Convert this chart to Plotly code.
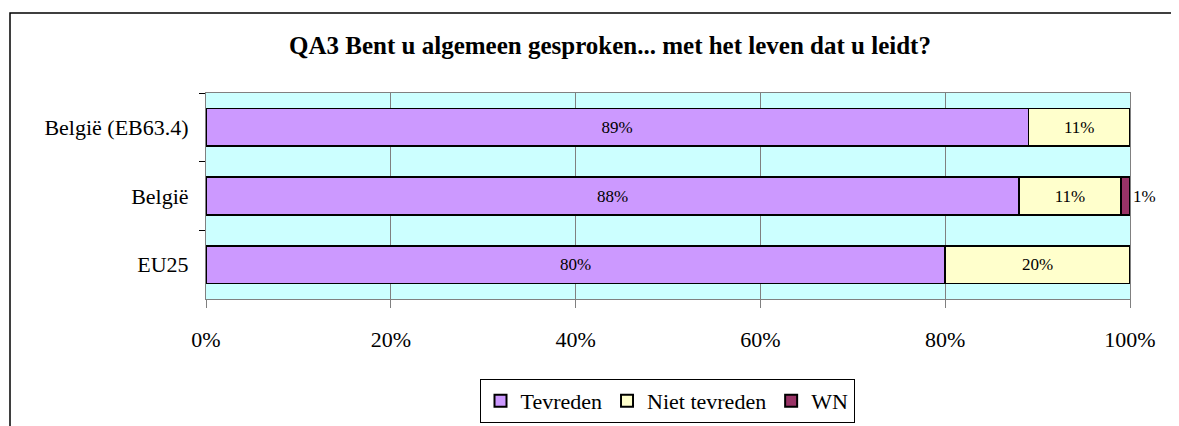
import plotly.graph_objects as go

categories = ["België (EB63.4)", "België", "EU25"]
tevreden = [89, 88, 80]
niet_tevreden = [11, 11, 20]
wn = [0, 1, 0]
series_names = ["Tevreden", "Niet tevreden", "WN"]
x_ticks = [0, 20, 40, 60, 80, 100]
x_tick_labels = ["0%", "20%", "40%", "60%", "80%", "100%"]
title_text = "QA3 Bent u algemeen gesproken... met het leven dat u leidt?"

colors = ["#CC99FF", "#FFFFCC", "#993366"]
font_family = "Liberation Serif, Times New Roman, serif"

# the page body has an 8px margin, so the figure sits at screen (8, 8)
OFF = 8
W, H = 1179 - OFF, 426 - OFF
L, R, T, B = 206 - OFF, 49, 93 - OFF, 127
pw, ph = W - L - R, H - T - B

def px2x(px):  # screen pixel -> paper x
    return (px - OFF - L) / pw

def py2y(py):  # screen pixel -> paper y
    return (H - B - (py - OFF)) / ph

fig = go.Figure()
for name, vals, col, pos in zip(series_names, [tevreden, niet_tevreden, wn], colors,
                                ["inside", "inside", "outside"]):
    fig.add_trace(go.Bar(
        y=categories, x=vals, name=name, orientation="h",
        marker=dict(color=col, line=dict(color="black", width=1.5)),
        text=[f"{v}%" if v > 0 else "" for v in vals],
        textposition=pos, insidetextanchor="middle",
        textfont=dict(family=font_family, size=17, color="black"),
        cliponaxis=False, constraintext="none",
        hoverinfo="skip",
    ))

fig.update_layout(
    width=W, height=H,
    barmode="stack", bargap=0.45,
    margin=dict(l=L, r=R, t=T, b=B, autoexpand=False),
    paper_bgcolor="white", plot_bgcolor="#CCFFFF",
    font=dict(family=font_family, size=22, color="black"),
    title=dict(text="<b>" + title_text + "</b>", x=(610 - OFF) / W, xanchor="center",
               y=1 - (45 - OFF) / H, yanchor="middle", font=dict(size=25, family=font_family)),
    showlegend=True,
    legend=dict(orientation="h", x=px2x(667), xanchor="center", y=py2y(379), yanchor="top",
                bordercolor="black", borderwidth=1, bgcolor="white",
                font=dict(size=22, family=font_family), traceorder="normal",
                itemwidth=30, itemsizing="constant"),
    uniformtext=dict(mode=False),
)

fig.update_xaxes(range=[0, 100], tickvals=x_ticks, ticktext=x_tick_labels,
                 showgrid=True, gridcolor="#808080", gridwidth=1,
                 ticks="outside", ticklen=8, tickcolor="#808080",
                 showline=True, linecolor="#808080", mirror=True,
                 ticklabelstandoff=13, zeroline=False, fixedrange=True)
fig.update_yaxes(autorange="reversed", tickson="boundaries", ticks="outside", ticklen=6,
                 tickcolor="black", showline=True, linecolor="#808080", mirror=True,
                 showgrid=False, ticklabelstandoff=12, fixedrange=True)

# outer chart border (extends beyond the visible window on the right and bottom)
fig.add_shape(type="rect", xref="paper", yref="paper",
              x0=px2x(10), x1=px2x(1179 + 20), y0=py2y(426 + 20), y1=py2y(13),
              line=dict(color="black", width=1.5), fillcolor="rgba(0,0,0,0)", layer="below")

fig.write_html("out.html")
